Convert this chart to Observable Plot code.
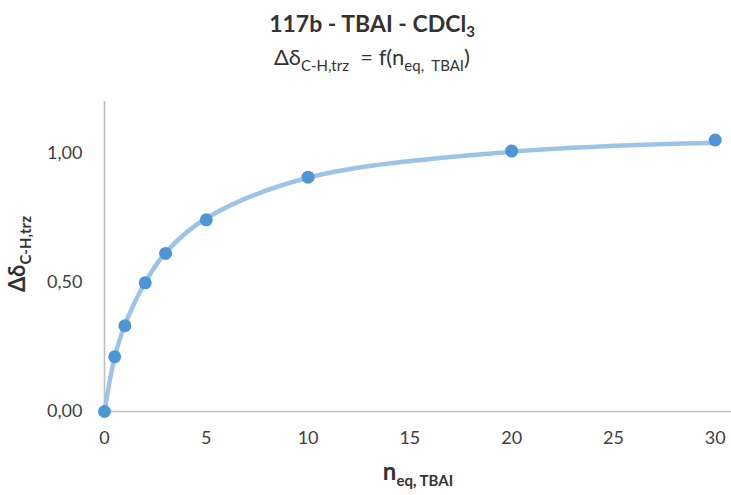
<!DOCTYPE html>
<html>
<head>
<meta charset="utf-8">
<script src="https://cdn.jsdelivr.net/npm/d3@7"></script>
<script src="https://cdn.jsdelivr.net/npm/@observablehq/plot@0.6"></script>
<style>
  html, body { margin: 0; padding: 0; background: #fff; }
  #chart { position: relative; width: 731px; height: 495px; overflow: hidden; }
  svg { font-family: Lato, "Open Sans", sans-serif; }
</style>
</head>
<body>
<div id="chart"></div>
<script>
// ---- data ----
const nEq = [0, 0.5, 1, 2, 3, 5, 10, 20, 30];
const deltaObs = [0, 0.212, 0.332, 0.498, 0.612, 0.742, 0.907, 1.008, 1.051];
const deltaFit = [0, 0.210, 0.335, 0.500, 0.615, 0.748, 0.905, 1.005, 1.040];
const xTicks = [0, 5, 10, 15, 20, 25, 30];
const yTicks = [0, 0.5, 1.0];
const yTickLabels = ["0,00", "0,50", "1,00"];

const obs = nEq.map((x, i) => ({x, y: deltaObs[i]}));
const fit = nEq.map((x, i) => ({x, y: deltaFit[i]}));

const axisColor = "#BFBFBF";
const textColor = "#404040";

const plot = Plot.plot({
  width: 731,
  height: 495,
  marginTop: 101,
  marginBottom: 84,
  marginLeft: 104,
  marginRight: 0,
  style: {fontFamily: "Lato, 'Open Sans', sans-serif", fontSize: "18px", color: textColor, background: "#fff"},
  x: {domain: [0, 30.8], ticks: xTicks, tickSize: 0, tickPadding: 20, label: null, tickFormat: d => String(d)},
  y: {domain: [0, 1.2], ticks: yTicks, tickSize: 0, tickPadding: 22, label: null,
      tickFormat: d => yTickLabels[yTicks.indexOf(d)]},
  marks: [
    Plot.ruleY([0], {stroke: axisColor, strokeWidth: 1.6}),
    Plot.ruleX([0], {stroke: axisColor, strokeWidth: 1.6}),
    Plot.line(fit, {x: "x", y: "y", curve: "catmull-rom", stroke: "#9DC3E6", strokeWidth: 4.5}),
    Plot.dot(obs, {x: "x", y: "y", r: 6.5, fill: "#4E95D5", stroke: "none"})
  ]
});
document.getElementById("chart").appendChild(plot);

const svg = d3.select(plot);

// Title
const t1 = svg.append("text")
  .attr("x", 372).attr("y", 32)
  .attr("text-anchor", "middle")
  .attr("fill", "#333")
  .attr("font-weight", "bold")
  .attr("font-size", 23);
t1.append("tspan").text("117b - TBAI - CDCl");
t1.append("tspan").attr("font-size", 15).attr("dy", 5).text("3");

// Subtitle
const t2 = svg.append("text")
  .attr("x", 372).attr("y", 65)
  .attr("text-anchor", "middle")
  .attr("fill", "#333")
  .attr("font-size", 22);
t2.append("tspan").text("Δδ");
t2.append("tspan").attr("font-size", 15).attr("dy", 6).text("C-H,trz");
t2.append("tspan").attr("dy", -6).text("\u00a0\u00a0= f(n");
t2.append("tspan").attr("font-size", 15).attr("dy", 6).text("eq,\u00a0\u00a0TBAI");
t2.append("tspan").attr("dy", -6).text(")");

// Y axis title
const yl = svg.append("text")
  .attr("transform", "translate(25,254) rotate(-90)")
  .attr("text-anchor", "middle")
  .attr("fill", "#333")
  .attr("font-weight", "bold")
  .attr("font-size", 22);
yl.append("tspan").text("Δδ");
yl.append("tspan").attr("font-size", 15).attr("dy", 6).text("C-H,trz");

// X axis title
const xl = svg.append("text")
  .attr("x", 418).attr("y", 480)
  .attr("text-anchor", "middle")
  .attr("fill", "#333")
  .attr("font-weight", "bold")
  .attr("font-size", 24);
xl.append("tspan").text("n");
xl.append("tspan").attr("font-size", 15).attr("dy", 6).text("eq, TBAI");
</script>
</body>
</html>
